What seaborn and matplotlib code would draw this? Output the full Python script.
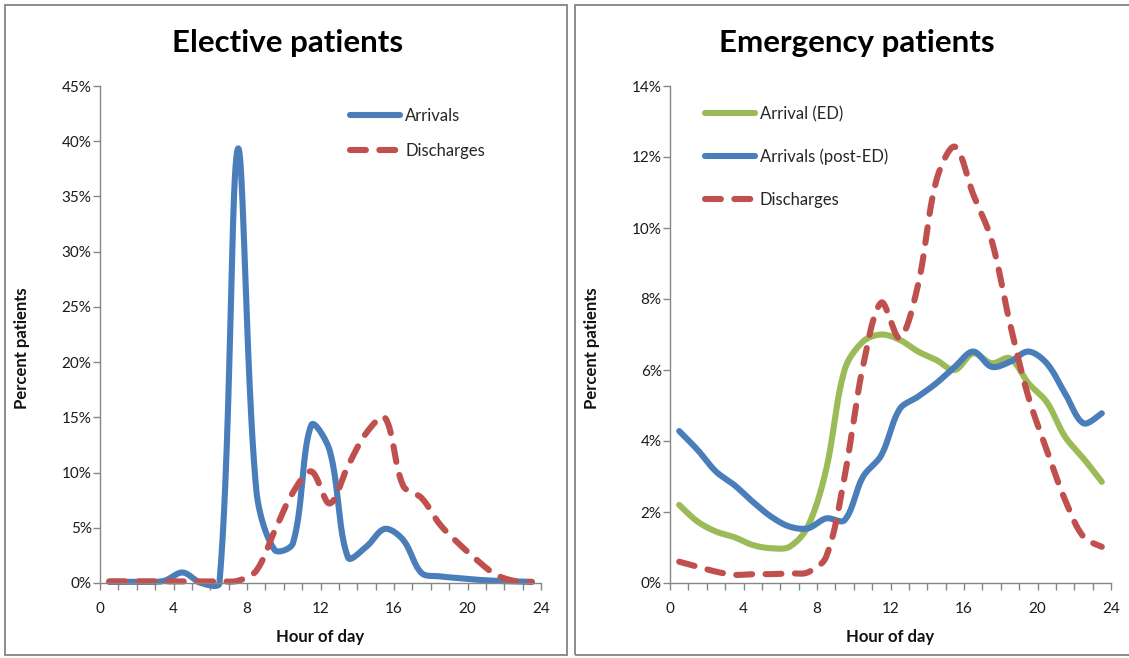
import numpy as np
import pandas as pd
import matplotlib
matplotlib.use("Agg")
import matplotlib.pyplot as plt
from matplotlib.patches import Rectangle
from matplotlib.ticker import MultipleLocator, FuncFormatter
import seaborn as sns

# ---------------- data (percent of patients per hour) ----------------
hours = [h + 0.5 for h in range(24)]

elective_arrivals = [0.1, 0.1, 0.1, 0.2, 0.95, 0.0, 0.0, 39.3, 8.5, 3.0, 3.6, 14.3,
                     12.0, 2.3, 3.3, 4.9, 3.9, 0.9, 0.6, 0.45, 0.3, 0.2, 0.15, 0.1]
elective_discharges = [0.15, 0.15, 0.15, 0.15, 0.15, 0.15, 0.15, 0.2, 1.1, 4.7, 8.2, 10.1,
                       7.2, 10.6, 13.6, 15.0, 8.8, 7.7, 5.3, 3.6, 2.1, 0.8, 0.2, 0.1]

emerg_arrival_ed = [2.2, 1.73, 1.45, 1.29, 1.07, 0.98, 1.02, 1.59, 3.2, 6.0, 6.8, 7.0,
                    6.85, 6.52, 6.28, 6.0, 6.47, 6.19, 6.33, 5.63, 5.1, 4.12, 3.51, 2.85]
emerg_arrivals_post = [4.28, 3.75, 3.14, 2.76, 2.29, 1.87, 1.59, 1.54, 1.82, 1.77, 2.99, 3.6,
                       4.9, 5.25, 5.63, 6.09, 6.52, 6.09, 6.23, 6.52, 6.19, 5.34, 4.5, 4.78]
emerg_discharges = [0.6, 0.46, 0.32, 0.23, 0.25, 0.25, 0.27, 0.3, 0.74, 3.0, 6.1, 7.9,
                    6.9, 8.4, 11.35, 12.29, 10.95, 9.66, 7.31, 5.25, 3.75, 2.34, 1.3, 1.02]

x_ticks = [0, 4, 8, 12, 16, 20, 24]
left_yticks = [0, 5, 10, 15, 20, 25, 30, 35, 40, 45]
right_yticks = [0, 2, 4, 6, 8, 10, 12, 14]

titles = ["Elective patients", "Emergency patients"]
xlabel = "Hour of day"
ylabel = "Percent patients"

BLUE = "#4A7EBB"
RED = "#C0504D"
GREEN = "#9BBB59"

W, H = 1129, 658
AX_W_PX, AX_H_PX = 441, 497


# ---------------- helpers ----------------
def smooth_curve(xs, ys, ymax, n=40):
    """Smoothed-line rendering (Bezier through every data point, tangents
    weighted by on-screen segment lengths, like spreadsheet 'smoothed lines')."""
    sx = AX_W_PX / 24.0
    sy = AX_H_PX / ymax
    p = np.column_stack([xs, ys]).astype(float)
    m = len(p)
    scr = p * np.array([sx, sy])
    d = np.hypot(*(np.diff(scr, axis=0).T))  # segment lengths in pixels
    out = []
    for i in range(m - 1):
        p1, p2 = p[i], p[i + 1]
        # tangent at p1
        if i > 0:
            t1 = (p[i + 1] - p[i - 1]) * d[i] / (d[i - 1] + d[i]) / 3.0
        else:
            t1 = (p[i + 1] - p[i]) / 3.0 * 0.5
        if i + 2 < m:
            t2 = (p[i + 2] - p[i]) * d[i] / (d[i] + d[i + 1]) / 3.0
        else:
            t2 = (p[i + 1] - p[i]) / 3.0 * 0.5
        c1 = p1 + t1
        c2 = p2 - t2
        t = np.linspace(0, 1, n, endpoint=(i == m - 2))[:, None]
        seg = ((1 - t) ** 3) * p1 + 3 * ((1 - t) ** 2) * t * c1 + 3 * (1 - t) * t ** 2 * c2 + t ** 3 * p2
        out.append(seg)
    out = np.vstack(out)
    return pd.DataFrame({"x": out[:, 0], "y": out[:, 1]})


LW = 4.4
DASH = (2.6, 2.2)

sns.set_theme(style="white")
plt.rcParams["font.family"] = ["Lato", "DejaVu Sans"]

fig = plt.figure(figsize=(W / 100, H / 100), dpi=100)


def fx(px):
    return px / W


def fy(py):
    return (H - py) / H


# panel frames
for x0, x1 in [(5, 567), (575, 1135)]:
    fig.add_artist(Rectangle((fx(x0), fy(655)), fx(x1) - fx(x0), fy(5) - fy(655),
                             transform=fig.transFigure, fill=False,
                             ec="#8C8C8C", lw=1.4, zorder=0))

ax_l = fig.add_axes([fx(100), fy(583), fx(541) - fx(100), fy(86) - fy(583)])
ax_r = fig.add_axes([fx(670), fy(583), fx(1111) - fx(670), fy(86) - fy(583)])


def draw(ax, xs, ys, ymax, color, label, dashed=False):
    d = smooth_curve(xs, ys, ymax)
    sns.lineplot(data=d, x="x", y="y", ax=ax, color=color, linewidth=LW,
                 estimator=None, sort=False, label=label,
                 solid_capstyle="round", dash_capstyle="round")
    line = ax.get_lines()[-1]
    if dashed:
        line.set_dashes(DASH)
    line.set_clip_on(False)


draw(ax_l, hours, elective_arrivals, 45, BLUE, "Arrivals")
draw(ax_l, hours, elective_discharges, 45, RED, "Discharges", dashed=True)

draw(ax_r, hours, emerg_arrival_ed, 14, GREEN, "Arrival (ED)")
draw(ax_r, hours, emerg_arrivals_post, 14, BLUE, "Arrivals (post-ED)")
draw(ax_r, hours, emerg_discharges, 14, RED, "Discharges", dashed=True)

AX_COLOR = "#868686"
for ax, yt, title, tx in [(ax_l, left_yticks, titles[0], 288), (ax_r, right_yticks, titles[1], 857)]:
    ax.set_xlim(0, 24)
    ax.set_ylim(0, yt[-1])
    ax.set_xticks(x_ticks)
    ax.xaxis.set_minor_locator(MultipleLocator(1))
    ax.set_yticks(yt)
    ax.yaxis.set_major_formatter(FuncFormatter(lambda v, p: f"{v:g}%"))
    for s in ["top", "right"]:
        ax.spines[s].set_visible(False)
    for s in ["left", "bottom"]:
        ax.spines[s].set_color(AX_COLOR)
        ax.spines[s].set_linewidth(1.0)
    ax.tick_params(axis="both", which="both", direction="out", color=AX_COLOR,
                   width=1.0, length=5, labelsize=11, labelcolor="#1a1a1a")
    ax.tick_params(axis="x", which="both", bottom=True, pad=9)
    ax.tick_params(axis="y", which="major", left=True, pad=1)
    ax.set_facecolor("none")
    ax.grid(False)
    ax.set_xlabel(xlabel, fontsize=12, fontweight="bold", color="#111111")
    ax.set_ylabel(ylabel, fontsize=12, fontweight="bold", color="#111111")
    ax.xaxis.set_label_coords(0.499, -0.093)
    ax.yaxis.set_label_coords(-0.158, 0.473)
    fig.text(fx(tx), fy(43), title, ha="center", va="center",
             fontsize=22.5, fontweight="bold", color="#000000")

ax_l.legend(loc="upper left", bbox_to_anchor=(0.567, 0.956), frameon=False,
            fontsize=12, handlelength=3.0, handletextpad=0.3, labelspacing=1.16,
            borderpad=0, borderaxespad=0)
ax_r.legend(loc="upper left", bbox_to_anchor=(0.079, 0.960), frameon=False,
            fontsize=12, handlelength=3.0, handletextpad=0.3, labelspacing=1.6,
            borderpad=0, borderaxespad=0)

fig.savefig("out.png", dpi=100, facecolor="white")
